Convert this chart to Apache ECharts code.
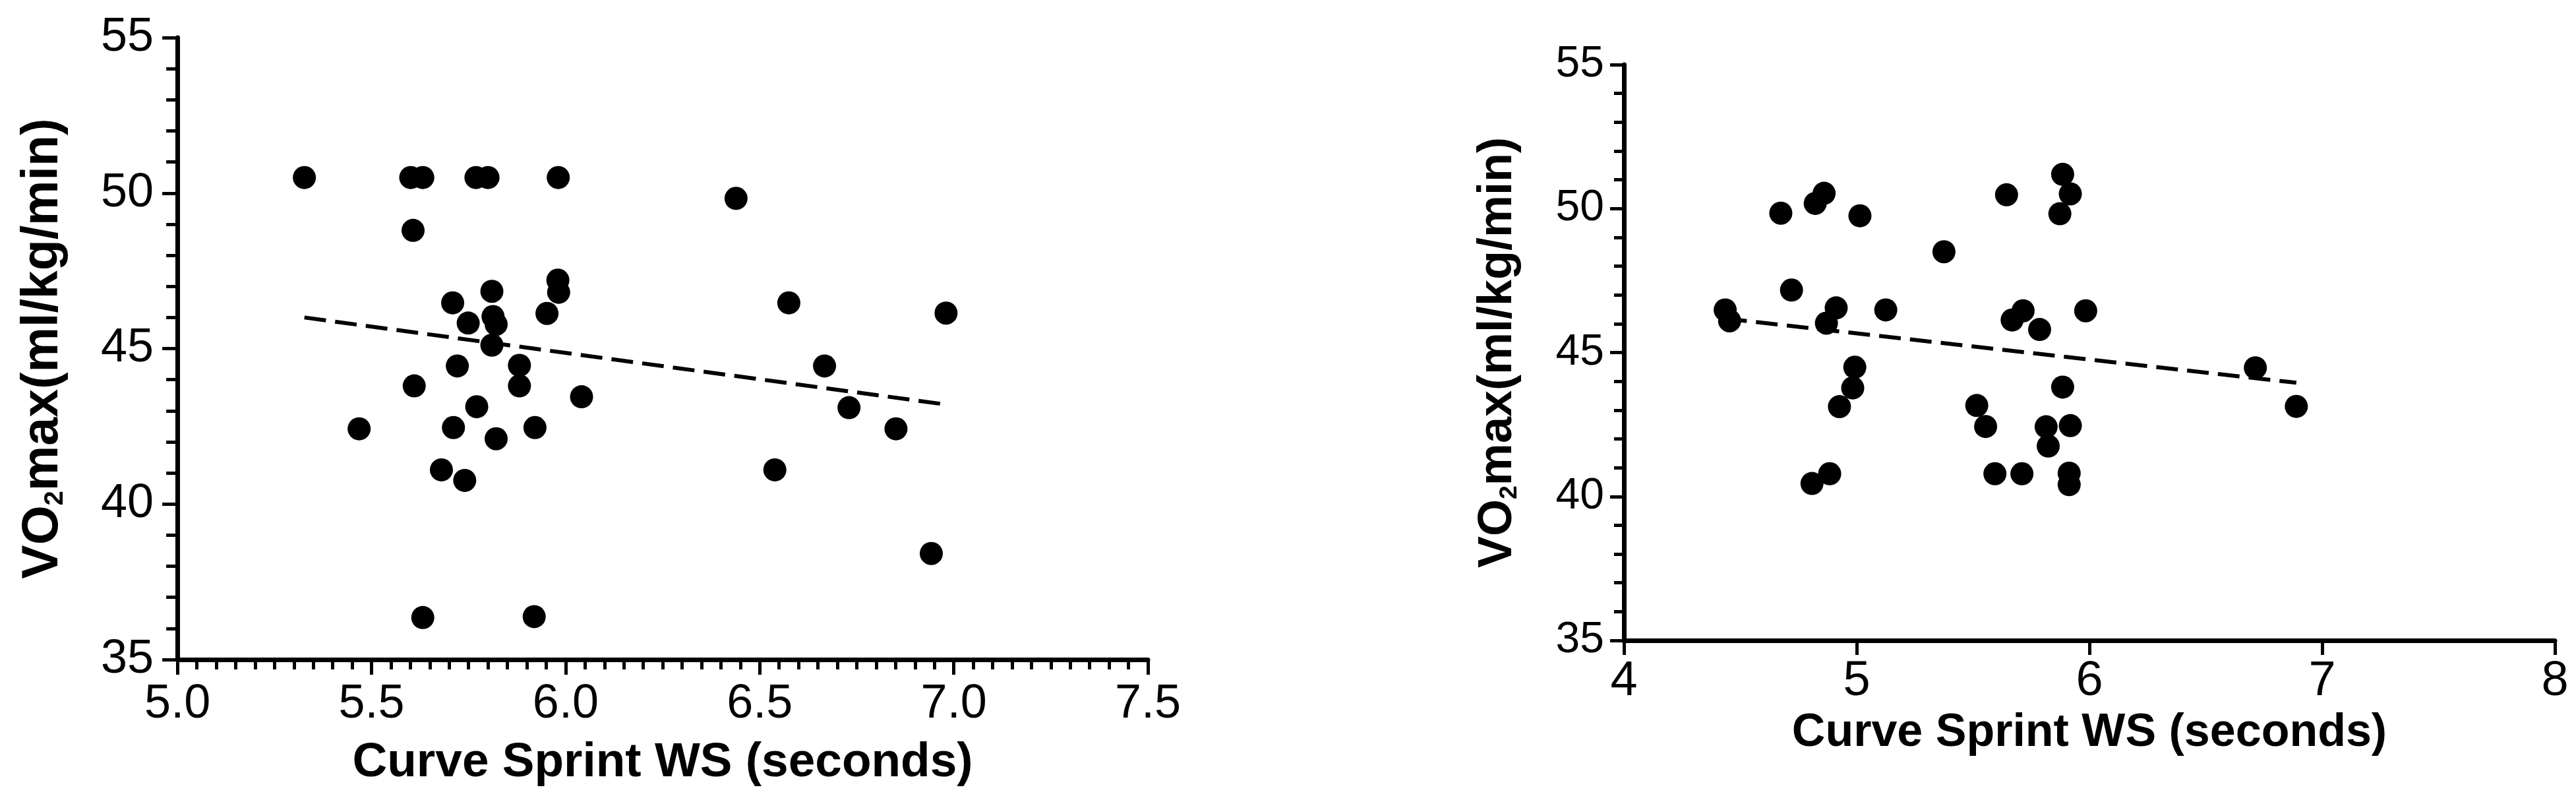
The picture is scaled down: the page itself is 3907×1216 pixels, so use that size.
<!DOCTYPE html>
<html>
<head>
<meta charset="utf-8">
<title>VO2max vs Curve Sprint WS</title>
<script src="https://cdn.jsdelivr.net/npm/echarts@6/dist/echarts.min.js"></script>
<style>
  html, body { margin: 0; padding: 0; background: #fff; }
  #chart { width: 3907px; height: 1216px; }
</style>
</head>
<body>
<div id="chart"></div>
<script>
// left panel: curve sprint WS (s) vs VO2max
const leftX = [5.327, 5.601, 5.632, 5.769, 5.800, 5.981, 6.439, 5.607,
  5.980, 5.982, 5.952, 5.810, 5.709, 5.749, 5.813, 5.821, 5.810, 5.721,
  5.881, 5.881, 5.610, 6.041, 5.771, 5.711, 5.821, 5.921, 5.680, 5.740,
  6.575, 6.980, 6.667, 6.730, 5.468, 6.851, 6.539, 6.942, 5.632, 5.919];
const leftY = [50.50, 50.50, 50.50, 50.50, 50.50, 50.50, 49.83, 48.80,
  47.20, 46.81, 46.13, 46.84, 46.47, 45.82, 46.03, 45.78, 45.11, 44.44,
  44.46, 43.80, 43.80, 43.45, 43.13, 42.46, 42.10, 42.46, 41.10, 40.76,
  46.47, 46.14, 44.44, 43.10, 42.42, 42.42, 41.10, 38.41, 36.35, 36.38];
const leftFitX = [5.327, 6.98];
const leftFitY = [46.0, 43.2];
const leftXTicks = [5.0, 5.5, 6.0, 6.5, 7.0, 7.5];

// right panel
const rightX = [4.435, 4.454, 4.674, 4.720, 4.808, 4.822, 4.860, 4.870,
  4.884, 4.912, 4.926, 4.983, 4.992, 5.014, 5.125, 5.375, 5.516, 5.554,
  5.594, 5.644, 5.668, 5.710, 5.715, 5.786, 5.814, 5.823, 5.873, 5.885,
  5.885, 5.913, 5.913, 5.918, 5.918, 5.984, 6.713, 6.889];
const rightY = [46.48, 46.10, 49.84, 47.17, 40.45, 50.18, 50.53, 46.02,
  40.79, 46.55, 43.12, 43.77, 44.49, 49.75, 46.48, 48.50, 43.16, 42.43,
  40.79, 50.48, 46.13, 40.79, 46.45, 45.80, 42.42, 41.75, 49.82, 51.19,
  43.80, 40.81, 40.41, 50.51, 42.46, 46.45, 44.47, 43.13];
const rightFitX = [4.435, 6.889];
const rightFitY = [46.18, 43.95];
const rightXTicks = [4, 5, 6, 7, 8];

const yTicks = [35, 40, 45, 50, 55];

const sans = '"Liberation Sans", Arial, sans-serif';

function zip(xs, ys) {
  return xs.map((x, i) => [x, ys[i]]);
}

function yTitle(size) {
  return {
    color: '#000',
    rich: {
      a: { fontSize: size, fontWeight: 'bold', fontFamily: sans, color: '#000',
           lineHeight: size, verticalAlign: 'top' },
      s: { fontSize: size * 0.52, fontWeight: 'bold', fontFamily: sans, color: '#000',
           lineHeight: size * 0.52, verticalAlign: 'bottom', padding: [size * 0.82, 0, 0, 0] }
    }
  };
}

function axisBase(tickLen) {
  return {
    type: 'value',
    splitLine: { show: false },
    axisLine: { show: true, onZero: false, lineStyle: { color: '#000', width: 7 } },
    axisTick: { show: true, length: tickLen, lineStyle: { color: '#000', width: 5 } }
  };
}

let chart = echarts.init(document.getElementById('chart'));
chart.setOption({
  backgroundColor: '#fff',
  animation: false,
  grid: [
    { left: 246, right: 2166, top: 57, bottom: 216 },
    { left: 2463, right: 32, top: 98, bottom: 245 }
  ],
  xAxis: [
    Object.assign(axisBase(23), {
      gridIndex: 0,
      min: leftXTicks[0], max: leftXTicks[leftXTicks.length - 1], interval: 0.5,
      minorTick: { show: true, splitNumber: 10, length: 15, lineStyle: { color: '#000', width: 5 } },
      axisLabel: { margin: 32, fontSize: 72, color: '#000', fontFamily: sans,
                   formatter: (v) => v.toFixed(1) },
      name: 'Curve Sprint WS (seconds)',
      nameLocation: 'middle',
      nameGap: 120,
      nameTextStyle: { fontSize: 73, fontWeight: 'bold', fontFamily: sans, color: '#000' }
    }),
    Object.assign(axisBase(22), {
      gridIndex: 1,
      min: rightXTicks[0], max: rightXTicks[rightXTicks.length - 1], interval: 1,
      minorTick: { show: false },
      axisLabel: { margin: 26, fontSize: 74, color: '#000', fontFamily: sans },
      name: 'Curve Sprint WS (seconds)',
      nameLocation: 'middle',
      nameGap: 106,
      nameTextStyle: { fontSize: 70, fontWeight: 'bold', fontFamily: sans, color: '#000' }
    })
  ],
  yAxis: [
    Object.assign(axisBase(23), {
      gridIndex: 0,
      min: yTicks[0], max: yTicks[yTicks.length - 1], interval: 5,
      minorTick: { show: true, splitNumber: 5, length: 17, lineStyle: { color: '#000', width: 5 } },
      axisLabel: { margin: 36, fontSize: 72, color: '#000', fontFamily: sans },
      name: '{a|VO}{s|2}{a|max(ml/kg/min)}',
      nameLocation: 'middle',
      nameRotate: 90,
      nameGap: 165,
      nameTextStyle: yTitle(77)
    }),
    Object.assign(axisBase(21), {
      gridIndex: 1,
      min: yTicks[0], max: yTicks[yTicks.length - 1], interval: 5,
      minorTick: { show: true, splitNumber: 5, length: 15, lineStyle: { color: '#000', width: 5 } },
      axisLabel: { margin: 30, fontSize: 66, color: '#000', fontFamily: sans },
      name: '{a|VO}{s|2}{a|max(ml/kg/min)}',
      nameLocation: 'middle',
      nameRotate: 90,
      nameGap: 155,
      nameTextStyle: yTitle(72)
    })
  ],
  series: [
    {
      type: 'scatter', xAxisIndex: 0, yAxisIndex: 0,
      data: zip(leftX, leftY),
      symbol: 'circle', symbolSize: 35,
      itemStyle: { color: '#000', opacity: 1 },
      emphasis: { disabled: true }
    },
    {
      type: 'line', xAxisIndex: 0, yAxisIndex: 0,
      data: zip(leftFitX, leftFitY),
      symbol: 'none',
      lineStyle: { color: '#000', width: 6, type: [33, 14] }
    },
    {
      type: 'scatter', xAxisIndex: 1, yAxisIndex: 1,
      data: zip(rightX, rightY),
      symbol: 'circle', symbolSize: 35,
      itemStyle: { color: '#000', opacity: 1 },
      emphasis: { disabled: true }
    },
    {
      type: 'line', xAxisIndex: 1, yAxisIndex: 1,
      data: zip(rightFitX, rightFitY),
      symbol: 'none',
      lineStyle: { color: '#000', width: 6, type: [33, 14] }
    }
  ]
});
</script>
</body>
</html>
